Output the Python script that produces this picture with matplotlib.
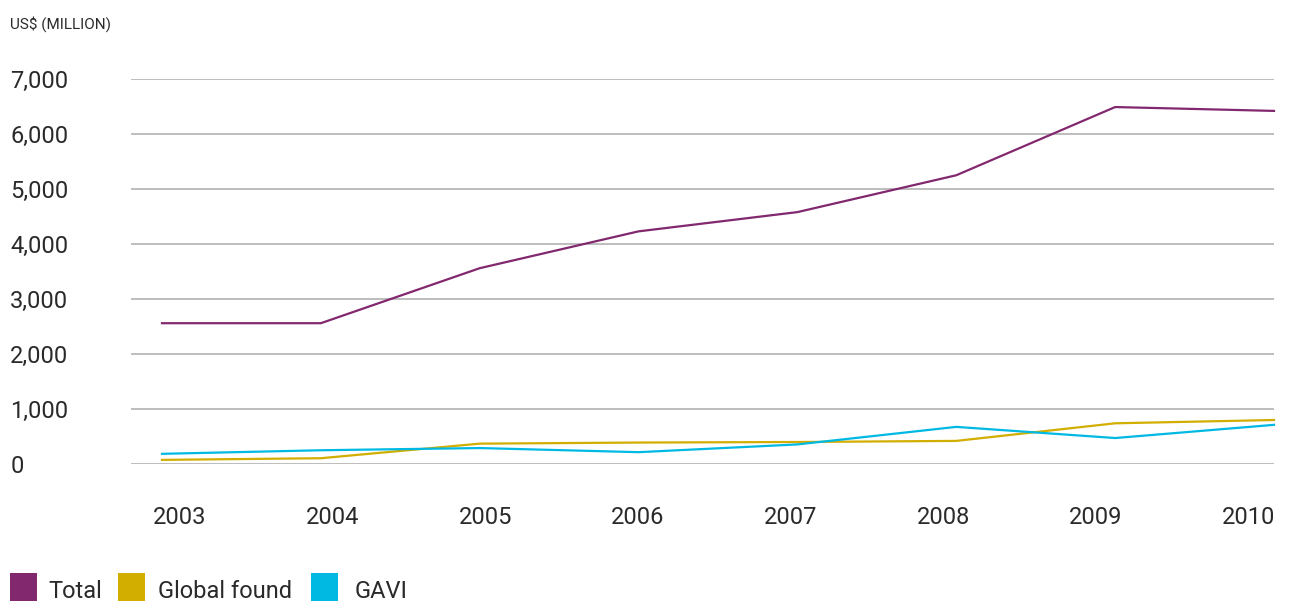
import numpy as np
import matplotlib.pyplot as plt
from matplotlib.patches import Rectangle

plt.rcParams['font.family'] = ['Roboto', 'DejaVu Sans']

# data (US$ million)
years = [2003, 2004, 2005, 2006, 2007, 2008, 2009, 2010]
total = [2560, 2560, 3560, 4230, 4580, 5250, 6490, 6420]
global_fund = [75, 105, 370, 390, 400, 420, 740, 800]
gavi = [185, 250, 290, 215, 356, 675, 472, 712]

series_names = ["Total", "Global found", "GAVI"]
series_colors = ["#82286E", "#D2AE00", "#00B9E3"]

fig = plt.figure(figsize=(12.89, 6.01), dpi=100)
ax = fig.add_axes([131/1289, 137/601, 1143/1289, 385/601])

for vals, name, col in zip([total, global_fund, gavi], series_names, series_colors):
    ax.plot(years, vals, color=col, linewidth=1.6, label=name, clip_on=False, zorder=3)

ax.set_xlim(2003 - 31/158.86, 2010)
ax.set_ylim(0, 7000)

yt = np.arange(0, 7001, 1000)
ax.set_yticks(yt)
ax.set_yticklabels([f"{v:,}" for v in yt], ha='left', fontsize=17, color="#2a2a2a")
ax.tick_params(axis='y', length=0, pad=87)

# year labels sit a bit inward of the data points
ax.set_xticks(np.linspace(2003.113, 2009.84, 8))
ax.set_xticklabels([str(y) for y in years], fontsize=17, color="#2a2a2a")
ax.tick_params(axis='x', length=0, pad=30)

for v in yt:
    ax.axhline(v, color="#ABABAB", linewidth=1.1, zorder=1)
for s in ax.spines.values():
    s.set_visible(False)

fig.text(10/1289, 1 - 24/601, "US$ (MILLION)", fontsize=11, color="#2a2a2a", va='center')

# legend along the bottom edge
sq_x = [10, 118, 311]
tx_x = [48, 158, 355]
for name, col, sx, tx in zip(series_names, series_colors, sq_x, tx_x):
    fig.patches.append(Rectangle((sx/1289, 0), 27/1289, 28/601, transform=fig.transFigure,
                                 facecolor=col, edgecolor='none'))
    fig.text(tx/1289, 9/601, name, fontsize=17, color="#2a2a2a", va='center')

plt.savefig("out.png", dpi=100)
